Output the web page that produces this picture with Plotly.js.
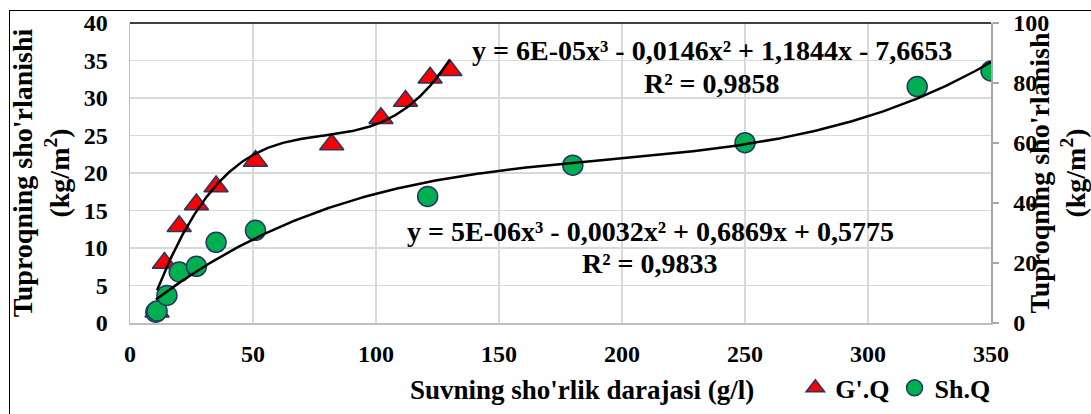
<!DOCTYPE html>
<html>
<head>
<meta charset="utf-8">
<script src="https://cdn.plot.ly/plotly-3.0.1.min.js"></script>
<style>
  html, body { margin: 0; padding: 0; background: #fff; overflow: hidden; }
  #chart { position: absolute; left: 0; top: 0; width: 1091px; height: 414px; }
  #frame { position: absolute; left: 9px; top: 10px; width: 1200px; height: 500px;
           border: 1.5px solid #000; pointer-events: none; box-sizing: border-box; }
</style>
</head>
<body>
<div id="chart"></div>
<div id="frame"></div>
<script>
// ---- Data ----
const gqName = "G'.Q";
const gqX = [11, 14, 20, 27, 35, 51, 82, 102, 112, 122, 130];
const gqY = [1.5, 8.0, 12.9, 15.8, 18.2, 21.6, 23.8, 27.3, 29.6, 32.7, 33.7];

const shName = "Sh.Q";
const shX = [10.5, 11, 15, 20, 27, 35, 51, 121, 180, 250, 320, 350];
const shY = [3.6, 4.0, 9.2, 17.0, 18.9, 26.9, 30.9, 42.2, 52.6, 60.1, 78.8, 84.0];

const gqEquation = "y = 6E-05x³ - 0,0146x² + 1,1844x - 7,6653";
const gqR2 = "R² = 0,9858";
const shEquation = "y = 5E-06x³ - 0,0032x² + 0,6869x + 0,5775";
const shR2 = "R² = 0,9833";

const xTitle = "Suvning sho'rlik darajasi (g/l)";
const yTitle = "Tuproqning sho'rlanishi<br>(kg/m<sup>2</sup>)";
const y2Title = "Tuproqning sho'rlanish<br>(kg/m<sup>2</sup>)";

// ---- Least-squares cubic trendline (as Excel computes it) ----
function polyfit(xs, ys, deg) {
  const n = deg + 1;
  const A = [];
  for (let i = 0; i < n; i++) A.push(new Array(n + 1).fill(0));
  for (let k = 0; k < xs.length; k++) {
    for (let i = 0; i < n; i++) {
      for (let j = 0; j < n; j++) A[i][j] += Math.pow(xs[k], i + j);
      A[i][n] += ys[k] * Math.pow(xs[k], i);
    }
  }
  for (let c = 0; c < n; c++) {
    let p = c;
    for (let r = c + 1; r < n; r++) if (Math.abs(A[r][c]) > Math.abs(A[p][c])) p = r;
    const tmp = A[c]; A[c] = A[p]; A[p] = tmp;
    for (let r = 0; r < n; r++) {
      if (r === c) continue;
      const f = A[r][c] / A[c][c];
      for (let j = c; j <= n; j++) A[r][j] -= f * A[c][j];
    }
  }
  const co = [];
  for (let i = 0; i < n; i++) co.push(A[i][n] / A[i][i]);
  return co;
}
function trend(xs, ys, scale) {
  const co = polyfit(xs, ys, 3);
  const x0 = Math.min(...xs), x1 = Math.max(...xs);
  const tx = [], ty = [];
  for (let i = 0; i <= 300; i++) {
    const x = x0 + (x1 - x0) * i / 300;
    tx.push(x);
    ty.push(scale * (co[0] + co[1] * x + co[2] * x * x + co[3] * x * x * x));
  }
  return { x: tx, y: ty };
}
const gqTrend = trend(gqX, gqY, 100 / 40); // drawn on the right-axis layer (same scale ratio)
const shTrend = trend(shX, shY, 1);

const FONT = "Liberation Serif, Times New Roman, serif";
const navy = "#203864";

const traces = [
  { x: gqX, y: gqY, name: gqName, type: "scatter", mode: "markers", xaxis: "x", yaxis: "y",
    marker: { symbol: "triangle-up", size: 21, color: "#ff0000", line: { color: navy, width: 1.5 } } },
  { x: shX, y: shY, name: shName, type: "scatter", mode: "markers", xaxis: "x", yaxis: "y2",
    marker: { symbol: "circle", size: 20, color: "#00b050", line: { color: navy, width: 1.5 } } },
  { x: gqTrend.x, y: gqTrend.y, type: "scatter", mode: "lines", xaxis: "x", yaxis: "y2",
    line: { color: "#000", width: 2.5 }, showlegend: false, hoverinfo: "skip" },
  { x: shTrend.x, y: shTrend.y, type: "scatter", mode: "lines", xaxis: "x", yaxis: "y2",
    line: { color: "#000", width: 2.5 }, showlegend: false, hoverinfo: "skip" }
];

const tickFont = { family: FONT, size: 24, color: "#000", weight: "bold" };
const titleFont = { family: FONT, size: 28, color: "#000", weight: "bold" };
const xTitleFont = { family: FONT, size: 27, color: "#000", weight: "bold" };

const layout = {
  width: 1091, height: 414,
  margin: { l: 130, r: 100, t: 23, b: 91 },
  paper_bgcolor: "#fff", plot_bgcolor: "#fff",
  font: { family: FONT, color: "#000" },
  showlegend: true,
  legend: { orientation: "h", xref: "container", yref: "container",
            x: 0.729, xanchor: "left", y: 0.063, yanchor: "middle",
            font: { family: FONT, size: 26, color: "#000", weight: "bold" },
            bgcolor: "rgba(0,0,0,0)", itemwidth: 30, tracegroupgap: 0 },
  xaxis: {
    range: [0, 350], dtick: 50, tick0: 0, showgrid: true, gridcolor: "#d9d9d9", gridwidth: 1.5,
    showline: true, linecolor: "#bfbfbf", linewidth: 1.5, zeroline: false, ticks: "",
    tickfont: tickFont, ticklabelstandoff: 9, automargin: false
  },
  yaxis: {
    range: [0, 40], dtick: 5, tick0: 0, showgrid: true, gridcolor: "#d9d9d9", gridwidth: 1.5,
    showline: true, linecolor: "#bfbfbf", linewidth: 1.5, zeroline: false, ticks: "",
    tickfont: tickFont, ticklabelstandoff: 16, automargin: false,
    title: { text: yTitle, font: titleFont, standoff: 6 }
  },
  yaxis2: {
    overlaying: "y", side: "right", range: [0, 100], dtick: 20, tick0: 0, showgrid: false,
    showline: true, linecolor: "#a6a6a6", linewidth: 1.5, zeroline: false,
    ticks: "outside", ticklen: 6, tickcolor: "#a6a6a6", tickwidth: 1.5,
    tickfont: tickFont, ticklabelstandoff: 10, automargin: false,
    title: { text: y2Title, font: titleFont, standoff: 16 }
  },
  shapes: [
    { type: "line", xref: "paper", yref: "paper", x0: 0, x1: 1, y0: 1, y1: 1,
      line: { color: "#000", width: 1.5 } }
  ],
  annotations: [
    // x-axis title (placed like the reference, slightly right of the plot centre)
    { text: xTitle, xref: "paper", yref: "paper", x: 0.525, y: -0.223, showarrow: false,
      font: xTitleFont, xanchor: "center", yanchor: "middle" },
    { text: gqEquation, xref: "x", yref: "y", x: 236.6, y: 36.3, showarrow: false,
      font: titleFont, xanchor: "center", yanchor: "middle" },
    { text: gqR2, xref: "x", yref: "y", x: 236.6, y: 32.0, showarrow: false,
      font: titleFont, xanchor: "center", yanchor: "middle" },
    { text: shEquation, xref: "x", yref: "y", x: 211.4, y: 12.2, showarrow: false,
      font: titleFont, xanchor: "center", yanchor: "middle" },
    { text: shR2, xref: "x", yref: "y", x: 211.4, y: 7.9, showarrow: false,
      font: titleFont, xanchor: "center", yanchor: "middle" }
  ]
};

Plotly.newPlot("chart", traces, layout, { displayModeBar: false, staticPlot: true });
</script>
</body>
</html>
